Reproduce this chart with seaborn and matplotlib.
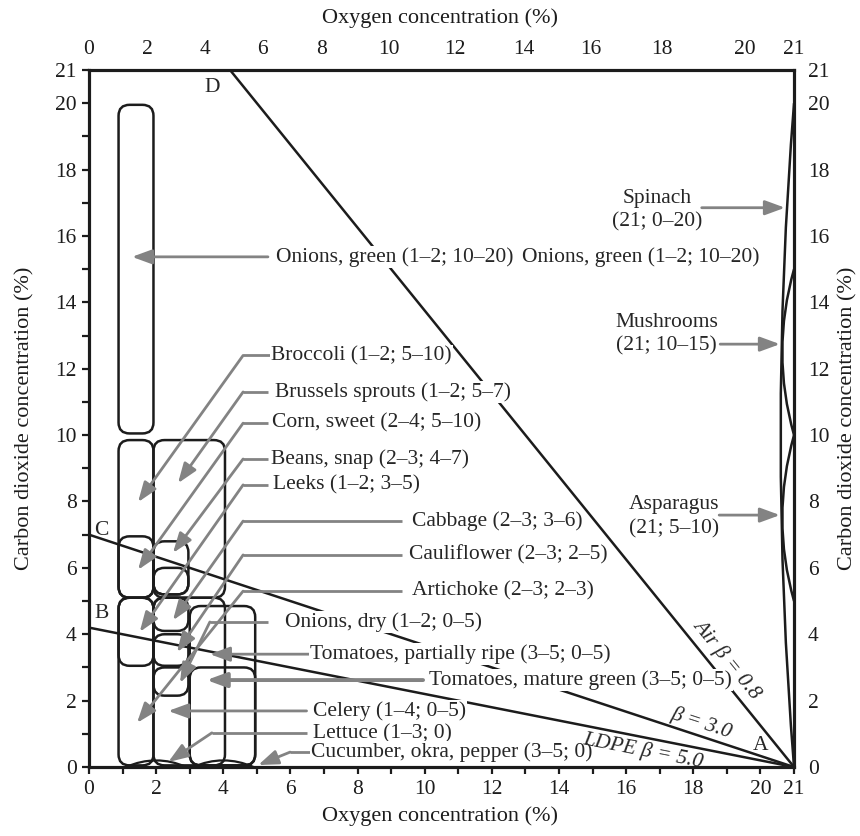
import matplotlib
matplotlib.use("Agg")
import matplotlib.pyplot as plt
import seaborn as sns
import pandas as pd
from matplotlib.patches import FancyBboxPatch, PathPatch
from matplotlib.path import Path

# film lines, all ending at air (21; 0)
film_names = ["Air", "beta3", "LDPE"]
film_o2_start = [4.2, 0.0, 0.0]
film_co2_start = [21.0, 7.0, 4.2]
film_o2_end = [21.0, 21.0, 21.0]
film_co2_end = [0.0, 0.0, 0.0]

# storage windows as they are outlined in the figure (O2 %, CO2 %)
box_o2_lo = [0.88, 0.88, 0.88, 1.92, 1.92, 1.92, 1.92, 1.92, 1.92, 0.88, 0.88, 1.92, 3.0, 3.0]
box_o2_hi = [1.92, 1.92, 1.92, 4.05, 2.96, 2.96, 2.96, 2.96, 2.96, 1.92, 1.92, 4.05, 4.95, 4.95]
box_co2_lo = [10.05, 5.1, 5.1, 5.1, 5.2, 5.2, 4.1, 3.05, 2.15, 3.05, 0.05, 0.05, 0.05, 0.05]
box_co2_hi = [19.95, 9.85, 6.95, 9.85, 6.8, 6.0, 5.1, 4.0, 3.0, 5.1, 5.1, 5.1, 4.85, 3.0]

# air-stored products (21; lo-hi)
lens_co2_lo = [0, 10, 5]
lens_co2_hi = [20, 15, 10]
# zero CO2 products (lo-hi; 0)
flat_o2_lo = [1.1, 3.1]
flat_o2_hi = [2.9, 4.9]

# tick labels
tick_vals = [0, 2, 4, 6, 8, 10, 12, 14, 16, 18, 20, 21]
top_tick_pos = [0, 1.75, 3.46, 5.18, 6.94, 8.94, 10.9, 12.96, 14.95, 17.07, 19.54, 21]

# labels: text, text x, text y, elbow x, elbow y, tip x, tip y, leader end x
labels = [
    ("Onions, green (1\u20132; 10\u201320)", 5.57, 15.37, None, None, 1.28, 15.37, 5.33),
    ("Broccoli (1\u20132; 5\u201310)", 5.42, 12.4, 4.59, 12.4, 1.46, 7.98, 5.42),
    ("Brussels sprouts (1\u20132; 5\u20137)", 5.54, 11.3, 4.59, 11.3, 2.65, 8.55, 5.33),
    ("Corn, sweet (2\u20134; 5\u201310)", 5.45, 10.36, 4.59, 10.36, 1.46, 5.94, 5.33),
    ("Beans, snap (2\u20133; 4\u20137)", 5.42, 9.28, 4.59, 9.28, 2.5, 6.45, 5.33),
    ("Leeks (1\u20132; 3\u20135)", 5.47, 8.5, 4.59, 8.5, 1.51, 4.07, 5.33),
    ("Cabbage (2\u20133; 3\u20136)", 9.62, 7.41, 4.59, 7.41, 2.5, 4.42, 9.31),
    ("Cauliflower (2\u20133; 2\u20135)", 9.52, 6.39, 4.59, 6.39, 2.62, 3.46, 9.31),
    ("Artichoke (2\u20133; 2\u20133)", 9.61, 5.3, 4.59, 5.3, 1.43, 1.33, 9.31),
    ("Onions, dry (1\u20132; 0\u20135)", 5.84, 4.37, 3.6, 4.37, 2.71, 2.53, 5.33),
    ("Tomatoes, partially ripe (3\u20135; 0\u20135)", 6.58, 3.4, None, None, 3.6, 3.4, 6.55),
    ("Tomatoes, mature green (3\u20135; 0\u20135)", 10.13, 2.62, None, None, 3.5, 2.62, 9.95),
    ("Celery (1\u20134; 0\u20135)", 6.67, 1.69, None, None, 2.36, 1.69, 6.48),
    ("Lettuce (1\u20133; 0)", 6.67, 1.0, 3.66, 1.03, 2.36, 0.15, 6.48),
    ("Cucumber, okra, pepper (3\u20135; 0)", 6.6, 0.45, 5.99, 0.45, 5.04, 0.06, 6.58),
]
right_labels = [
    ("Spinach\n(21; 0\u201320)", 16.91, 16.78, 18.25, 16.85, 20.73),
    ("Mushrooms\n(21; 10\u201315)", 17.2, 13.03, 18.8, 12.74, 20.58),
    ("Asparagus\n(21; 5\u201310)", 17.43, 7.54, 18.77, 7.59, 20.58),
]

sns.set_style("ticks")
plt.rcParams["font.family"] = ["Liberation Serif", "DejaVu Serif"]

fs = 15.5
gray = "#838383"
ink = "#1c1c1c"

fig = plt.figure(figsize=(8.6, 8.36), dpi=100)
ax = fig.add_axes([0.1035, 0.0825, 0.8198, 0.8338])

films = pd.DataFrame({
    "film": film_names * 2,
    "o2": film_o2_start + film_o2_end,
    "co2": film_co2_start + film_co2_end,
})
sns.lineplot(data=films, x="o2", y="co2", units="film", estimator=None,
             color=ink, lw=1.8, ax=ax, legend=False, zorder=2)

for x0, x1, y0, y1 in zip(box_o2_lo, box_o2_hi, box_co2_lo, box_co2_hi):
    ax.add_patch(FancyBboxPatch((x0, y0), x1 - x0, y1 - y0,
                                boxstyle="round,pad=0,rounding_size=0.33",
                                fc="none", ec=ink, lw=1.8, zorder=2))

bulge = [0.8, 0.7, 0.7]
for lo, hi, b in zip(lens_co2_lo, lens_co2_hi, bulge):
    p = Path([(21, lo), (21 - b, (lo + hi) / 2), (21, hi)],
             [Path.MOVETO, Path.CURVE3, Path.CURVE3])
    ax.add_patch(PathPatch(p, fc="none", ec=ink, lw=1.8, zorder=2))
for lo, hi in zip(flat_o2_lo, flat_o2_hi):
    p = Path([(lo, 0), ((lo + hi) / 2, 0.4), (hi, 0)],
             [Path.MOVETO, Path.CURVE3, Path.CURVE3])
    ax.add_patch(PathPatch(p, fc="none", ec=ink, lw=1.6, zorder=2))

arrow = dict(arrowstyle="-|>,head_length=0.6,head_width=0.22", color=gray,
             lw=2.0, shrinkA=0, shrinkB=0, mutation_scale=20)
wbox = dict(facecolor="white", edgecolor="none", pad=0.8)

for text, tx, ty, ex, ey, px, py, lx in labels:
    ax.text(tx, ty, text, ha="left", va="center", fontsize=fs, bbox=wbox, zorder=5)
    a = dict(arrow)
    if text.startswith("Tomatoes, mature"):
        a["lw"] = 2.8
    if ex is None:
        ax.annotate("", xy=(px, py), xytext=(lx, py), arrowprops=a, zorder=4)
    else:
        ax.plot([ex, lx], [ey, ey], color=gray, lw=2.0, zorder=4,
                solid_capstyle="butt")
        ax.annotate("", xy=(px, py), xytext=(ex, ey), arrowprops=a, zorder=4)

ax.text(12.9, 15.37, "Onions, green (1\u20132; 10\u201320)", ha="left", va="center",
        fontsize=fs, bbox=wbox, zorder=5)

for text, tx, ty, ax0, ay, ax1 in right_labels:
    ax.text(tx, ty, text, ha="center", va="center", fontsize=fs,
            linespacing=1.3, zorder=5)
    ax.annotate("", xy=(ax1, ay), xytext=(ax0, ay), arrowprops=arrow, zorder=4)

# line letters and film labels
ax.text(3.66, 20.46, "D", fontsize=fs, ha="center", va="center")
ax.text(0.38, 7.14, "C", fontsize=fs, ha="center", va="center")
ax.text(0.38, 4.64, "B", fontsize=fs, ha="center", va="center")
ax.text(20.0, 0.66, "A", fontsize=fs, ha="center", va="center")
ax.text(19.0, 3.25, "Air \u03b2 = 0.8", fontsize=fs, style="italic", zorder=6,
        rotation=-51, ha="center", va="center", rotation_mode="anchor")
ax.text(18.23, 1.33, "\u03b2 = 3.0", fontsize=fs, style="italic", zorder=6,
        rotation=-18, ha="center", va="center", rotation_mode="anchor")
ax.text(16.5, 0.5, "LDPE \u03b2 = 5.0", fontsize=fs, style="italic", zorder=6,
        rotation=-11, ha="center", va="center", rotation_mode="anchor")

ax.set_xlim(0, 21)
ax.set_ylim(0, 21)
ax.set_xlabel("")
ax.set_ylabel("")
ax.set_xticks(tick_vals)
ax.set_xticklabels([str(v) for v in tick_vals])
ax.set_yticks(tick_vals)
ax.set_yticklabels([str(v) for v in tick_vals])
ax.set_xticks(range(22), minor=True)
ax.set_yticks(range(22), minor=True)
ax.tick_params(which="both", direction="out", length=5, width=1.6,
               color=ink, labelsize=fs, labelcolor=ink, pad=4)
for s in ax.spines.values():
    s.set_visible(True)
    s.set_linewidth(2.2)
    s.set_color(ink)

top = ax.twiny()
top.set_xlim(0, 21)
top.set_xticks(top_tick_pos)
top.set_xticklabels([str(v) for v in tick_vals])
top.tick_params(length=0, labelsize=fs, labelcolor=ink, pad=8)

right = ax.twinx()
right.set_ylim(0, 21)
right.set_yticks(tick_vals)
right.set_yticklabels([str(v) for v in tick_vals])
right.tick_params(length=0, labelsize=fs, labelcolor=ink, pad=10)
for a in (top, right):
    for s in a.spines.values():
        s.set_linewidth(2.2)
        s.set_color(ink)

fig.text(0.512, 1 - 18 / 836, "Oxygen concentration (%)", ha="center",
         va="center", fontsize=16, color=ink)
fig.text(0.512, 1 - 816 / 836, "Oxygen concentration (%)", ha="center",
         va="center", fontsize=16, color=ink)
fig.text(25 / 860, 0.5, "Carbon dioxide concentration (%)", rotation=90,
         ha="center", va="center", fontsize=16, color=ink)
fig.text(848 / 860, 0.5, "Carbon dioxide concentration (%)", rotation=90,
         ha="center", va="center", fontsize=16, color=ink)

fig.savefig("out.png", dpi=100)
